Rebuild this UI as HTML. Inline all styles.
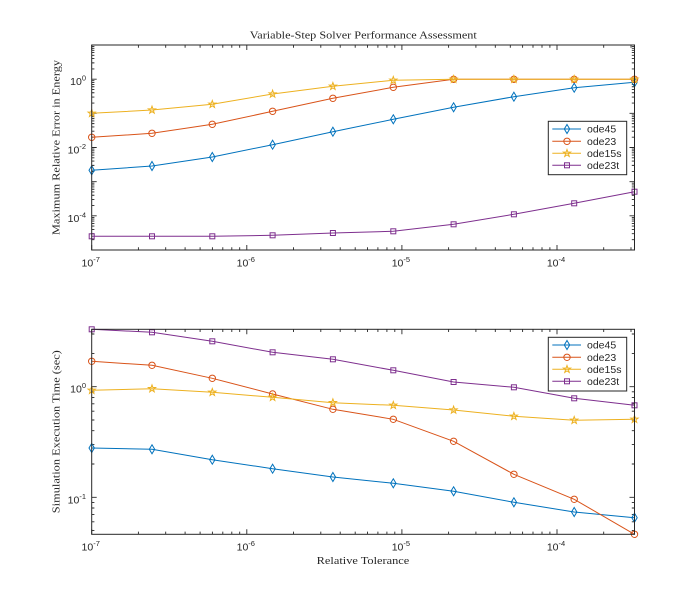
<!DOCTYPE html>
<html><head><meta charset="utf-8"><style>
html,body{margin:0;padding:0;background:#fff;}
svg{display:block;}
.tl{font-family:"Liberation Sans",sans-serif;font-size:10.5px;fill:#262626;}
.sl{font-family:"Liberation Serif",serif;font-size:11px;fill:#262626;}
</style></head><body>
<svg width="700" height="600" viewBox="0 0 700 600" xmlns="http://www.w3.org/2000/svg">
<defs>
<path id="dia" d="M0 -4.5L2.7 0L0 4.5L-2.7 0Z"/>
<ellipse id="cir" cx="0" cy="0" rx="3.2" ry="3.2"/>
<path id="sta" d="M0 -3.8L0.9 -1.23L3.6 -1.18L1.45 0.47L2.23 3.08L0 1.52L-2.23 3.08L-1.45 0.47L-3.6 -1.18L-0.9 -1.23Z"/>
<rect id="sq" x="-2.5" y="-2.5" width="5" height="5"/>
<path id="xt" d="M91.7 0v-5M246.8 0v-5M401.9 0v-5M557 0v-5M138.4 0v-2.7M165.7 0v-2.7M185.1 0v-2.7M200.1 0v-2.7M212.4 0v-2.7M222.8 0v-2.7M231.8 0v-2.7M239.7 0v-2.7M293.5 0v-2.7M320.8 0v-2.7M340.2 0v-2.7M355.2 0v-2.7M367.5 0v-2.7M377.9 0v-2.7M386.9 0v-2.7M394.8 0v-2.7M448.6 0v-2.7M475.9 0v-2.7M495.3 0v-2.7M510.3 0v-2.7M522.6 0v-2.7M533 0v-2.7M542 0v-2.7M549.9 0v-2.7M603.7 0v-2.7M631 0v-2.7"/>
<path id="yt1" d="M0 45h5M0 79.17h5M0 113.33h5M0 147.5h5M0 181.67h5M0 215.83h5M0 250h5M0 239.7h2.7M0 233.7h2.7M0 229.4h2.7M0 226.1h2.7M0 223.4h2.7M0 221.1h2.7M0 219.1h2.7M0 217.4h2.7M0 205.55h2.7M0 199.53h2.7M0 195.26h2.7M0 191.95h2.7M0 189.24h2.7M0 186.96h2.7M0 184.97h2.7M0 183.22h2.7M0 171.39h2.7M0 165.37h2.7M0 161.1h2.7M0 157.79h2.7M0 155.08h2.7M0 152.8h2.7M0 150.81h2.7M0 149.06h2.7M0 137.22h2.7M0 131.2h2.7M0 126.93h2.7M0 123.62h2.7M0 120.91h2.7M0 118.63h2.7M0 116.64h2.7M0 114.89h2.7M0 103.05h2.7M0 97.03h2.7M0 92.76h2.7M0 89.45h2.7M0 86.74h2.7M0 84.46h2.7M0 82.47h2.7M0 80.72h2.7M0 68.89h2.7M0 62.87h2.7M0 58.6h2.7M0 55.29h2.7M0 52.58h2.7M0 50.3h2.7M0 48.31h2.7M0 46.56h2.7"/>
<path id="yt2" d="M0 386.7h5M0 497.3h5M0 353.4h2.7M0 334h2.7M0 391.8h2.7M0 397.4h2.7M0 403.8h2.7M0 411.2h2.7M0 420h2.7M0 430.7h2.7M0 444.6h2.7M0 464h2.7M0 502.4h2.7M0 508h2.7M0 514.4h2.7M0 521.8h2.7M0 530.6h2.7"/>
</defs>

<!-- ===== TOP AXES ===== -->
<rect x="91.7" y="45" width="542.8" height="205" fill="#fff"/>
<g fill="none" stroke="#262626" stroke-width="0.9">
<use href="#xt" transform="translate(0,250)"/>
<use href="#xt" transform="translate(0,45) scale(1,-1)"/>
<use href="#yt1" transform="translate(91.7,0)"/>
<use href="#yt1" transform="translate(634.5,0) scale(-1,1)"/>
</g>

<g fill="none" stroke-width="1">
<g stroke="#0072BD">
<polyline points="91.7,170.3 152,166 212.3,157 272.6,144.7 332.9,131.7 393.3,119.3 453.6,107.3 513.9,96.7 574.2,87.7 634.5,82.3"/>
<use href="#dia" x="91.7" y="170.3"/><use href="#dia" x="152" y="166"/><use href="#dia" x="212.3" y="157"/><use href="#dia" x="272.6" y="144.7"/><use href="#dia" x="332.9" y="131.7"/><use href="#dia" x="393.3" y="119.3"/><use href="#dia" x="453.6" y="107.3"/><use href="#dia" x="513.9" y="96.7"/><use href="#dia" x="574.2" y="87.7"/><use href="#dia" x="634.5" y="82.3"/>
</g>
<g stroke="#D95319">
<polyline points="91.7,137.3 152,133.3 212.3,124.3 272.6,111.3 332.9,98.3 393.3,87.3 453.6,79.3 513.9,79.3 574.2,79.3 634.5,79.3"/>
<use href="#cir" x="91.7" y="137.3"/><use href="#cir" x="152" y="133.3"/><use href="#cir" x="212.3" y="124.3"/><use href="#cir" x="272.6" y="111.3"/><use href="#cir" x="332.9" y="98.3"/><use href="#cir" x="393.3" y="87.3"/><use href="#cir" x="453.6" y="79.3"/><use href="#cir" x="513.9" y="79.3"/><use href="#cir" x="574.2" y="79.3"/><use href="#cir" x="634.5" y="79.3"/>
</g>
<g stroke="#EDB120">
<polyline points="91.7,113.3 152,110 212.3,104.3 272.6,94 332.9,86.3 393.3,80.3 453.6,79.3 513.9,79.3 574.2,79.3 634.5,79.3"/>
<use href="#sta" x="91.7" y="113.3"/><use href="#sta" x="152" y="110"/><use href="#sta" x="212.3" y="104.3"/><use href="#sta" x="272.6" y="94"/><use href="#sta" x="332.9" y="86.3"/><use href="#sta" x="393.3" y="80.3"/><use href="#sta" x="453.6" y="79.3"/><use href="#sta" x="513.9" y="79.3"/><use href="#sta" x="574.2" y="79.3"/><use href="#sta" x="634.5" y="79.3"/>
</g>
<g stroke="#7E2F8E">
<polyline points="91.7,236.3 152,236.3 212.3,236.3 272.6,235.3 332.9,233 393.3,231.3 453.6,224.3 513.9,214.3 574.2,203.3 634.5,191.7"/>
<use href="#sq" x="91.7" y="236.3"/><use href="#sq" x="152" y="236.3"/><use href="#sq" x="212.3" y="236.3"/><use href="#sq" x="272.6" y="235.3"/><use href="#sq" x="332.9" y="233"/><use href="#sq" x="393.3" y="231.3"/><use href="#sq" x="453.6" y="224.3"/><use href="#sq" x="513.9" y="214.3"/><use href="#sq" x="574.2" y="203.3"/><use href="#sq" x="634.5" y="191.7"/>
</g>
</g>

<rect x="91.7" y="45" width="542.8" height="205" fill="none" stroke="#262626" stroke-width="1"/>

<!-- top legend -->
<rect x="548.3" y="121.3" width="78.4" height="53.4" fill="#fff" stroke="#262626" stroke-width="1"/>
<g fill="none" stroke-width="1">
<g stroke="#0072BD"><line x1="552.3" y1="129" x2="581" y2="129"/><use href="#dia" x="567" y="129"/></g>
<g stroke="#D95319"><line x1="552.3" y1="141.3" x2="581" y2="141.3"/><use href="#cir" x="567" y="141.3"/></g>
<g stroke="#EDB120"><line x1="552.3" y1="153.3" x2="581" y2="153.3"/><use href="#sta" x="567" y="153.3"/></g>
<g stroke="#7E2F8E"><line x1="552.3" y1="165.3" x2="581" y2="165.3"/><use href="#sq" x="567" y="165.3"/></g>
</g>
<text class="tl" x="587" y="132.7">ode45</text>
<text class="tl" x="587" y="145">ode23</text>
<text class="tl" x="587" y="157">ode15s</text>
<text class="tl" x="587" y="169">ode23t</text>

<!-- top tick labels -->
<text class="tl" x="90.7" y="266.7" text-anchor="middle">10<tspan dy="-4.5" font-size="7.5">-7</tspan></text>
<text class="tl" x="245.8" y="266.7" text-anchor="middle">10<tspan dy="-4.5" font-size="7.5">-6</tspan></text>
<text class="tl" x="400.9" y="266.7" text-anchor="middle">10<tspan dy="-4.5" font-size="7.5">-5</tspan></text>
<text class="tl" x="556" y="266.7" text-anchor="middle">10<tspan dy="-4.5" font-size="7.5">-4</tspan></text>
<text class="tl" x="86" y="85.2" text-anchor="end">10<tspan dy="-4.5" font-size="7.5">0</tspan></text>
<text class="tl" x="86" y="153.5" text-anchor="end">10<tspan dy="-4.5" font-size="7.5">-2</tspan></text>
<text class="tl" x="86" y="221.8" text-anchor="end">10<tspan dy="-4.5" font-size="7.5">-4</tspan></text>

<text class="sl" x="363.3" y="38.5" text-anchor="middle" textLength="227" lengthAdjust="spacingAndGlyphs">Variable-Step Solver Performance Assessment</text>
<text class="sl" transform="translate(59.5,147.5) rotate(-90)" x="0" y="0" text-anchor="middle" textLength="175" lengthAdjust="spacingAndGlyphs">Maximum Relative Error in Energy</text>

<!-- ===== BOTTOM AXES ===== -->
<g fill="none" stroke="#262626" stroke-width="0.9">
<use href="#xt" transform="translate(0,534.3)"/>
<use href="#xt" transform="translate(0,329.3) scale(1,-1)"/>
<use href="#yt2" transform="translate(91.7,0)"/>
<use href="#yt2" transform="translate(634.5,0) scale(-1,1)"/>
</g>

<g fill="none" stroke-width="1">
<g stroke="#0072BD">
<polyline points="91.7,448 152,449.3 212.3,459.7 272.6,468.7 332.9,477 393.3,483.3 453.6,491.3 513.9,502.3 574.2,512 634.5,517.7"/>
<use href="#dia" x="91.7" y="448"/><use href="#dia" x="152" y="449.3"/><use href="#dia" x="212.3" y="459.7"/><use href="#dia" x="272.6" y="468.7"/><use href="#dia" x="332.9" y="477"/><use href="#dia" x="393.3" y="483.3"/><use href="#dia" x="453.6" y="491.3"/><use href="#dia" x="513.9" y="502.3"/><use href="#dia" x="574.2" y="512"/><use href="#dia" x="634.5" y="517.7"/>
</g>
<g stroke="#D95319">
<polyline points="91.7,361.3 152,365.3 212.3,378.3 272.6,394 332.9,409.3 393.3,419.3 453.6,441.3 513.9,474.3 574.2,499.3 634.5,534.3"/>
<use href="#cir" x="91.7" y="361.3"/><use href="#cir" x="152" y="365.3"/><use href="#cir" x="212.3" y="378.3"/><use href="#cir" x="272.6" y="394"/><use href="#cir" x="332.9" y="409.3"/><use href="#cir" x="393.3" y="419.3"/><use href="#cir" x="453.6" y="441.3"/><use href="#cir" x="513.9" y="474.3"/><use href="#cir" x="574.2" y="499.3"/><use href="#cir" x="634.5" y="534.3"/>
</g>
<g stroke="#EDB120">
<polyline points="91.7,390.3 152,388.7 212.3,392.3 272.6,397.3 332.9,402.7 393.3,405.3 453.6,410 513.9,416.3 574.2,420.3 634.5,419.3"/>
<use href="#sta" x="91.7" y="390.3"/><use href="#sta" x="152" y="388.7"/><use href="#sta" x="212.3" y="392.3"/><use href="#sta" x="272.6" y="397.3"/><use href="#sta" x="332.9" y="402.7"/><use href="#sta" x="393.3" y="405.3"/><use href="#sta" x="453.6" y="410"/><use href="#sta" x="513.9" y="416.3"/><use href="#sta" x="574.2" y="420.3"/><use href="#sta" x="634.5" y="419.3"/>
</g>
<g stroke="#7E2F8E">
<polyline points="91.7,329.3 152,332.3 212.3,341.3 272.6,352.3 332.9,359.3 393.3,370.3 453.6,382 513.9,387.3 574.2,398.3 634.5,405.3"/>
<use href="#sq" x="91.7" y="329.3"/><use href="#sq" x="152" y="332.3"/><use href="#sq" x="212.3" y="341.3"/><use href="#sq" x="272.6" y="352.3"/><use href="#sq" x="332.9" y="359.3"/><use href="#sq" x="393.3" y="370.3"/><use href="#sq" x="453.6" y="382"/><use href="#sq" x="513.9" y="387.3"/><use href="#sq" x="574.2" y="398.3"/><use href="#sq" x="634.5" y="405.3"/>
</g>
</g>

<rect x="91.7" y="329.3" width="542.8" height="205" fill="none" stroke="#262626" stroke-width="1"/>

<!-- bottom legend -->
<rect x="548.3" y="337.3" width="78.4" height="53.7" fill="#fff" stroke="#262626" stroke-width="1"/>
<g fill="none" stroke-width="1">
<g stroke="#0072BD"><line x1="552.3" y1="345" x2="581" y2="345"/><use href="#dia" x="567" y="345"/></g>
<g stroke="#D95319"><line x1="552.3" y1="357.3" x2="581" y2="357.3"/><use href="#cir" x="567" y="357.3"/></g>
<g stroke="#EDB120"><line x1="552.3" y1="369.3" x2="581" y2="369.3"/><use href="#sta" x="567" y="369.3"/></g>
<g stroke="#7E2F8E"><line x1="552.3" y1="381.3" x2="581" y2="381.3"/><use href="#sq" x="567" y="381.3"/></g>
</g>
<text class="tl" x="587" y="348.7">ode45</text>
<text class="tl" x="587" y="361">ode23</text>
<text class="tl" x="587" y="373">ode15s</text>
<text class="tl" x="587" y="385">ode23t</text>

<!-- bottom tick labels -->
<text class="tl" x="90.7" y="550.7" text-anchor="middle">10<tspan dy="-4.5" font-size="7.5">-7</tspan></text>
<text class="tl" x="245.8" y="550.7" text-anchor="middle">10<tspan dy="-4.5" font-size="7.5">-6</tspan></text>
<text class="tl" x="400.9" y="550.7" text-anchor="middle">10<tspan dy="-4.5" font-size="7.5">-5</tspan></text>
<text class="tl" x="556" y="550.7" text-anchor="middle">10<tspan dy="-4.5" font-size="7.5">-4</tspan></text>
<text class="tl" x="86" y="392.7" text-anchor="end">10<tspan dy="-4.5" font-size="7.5">0</tspan></text>
<text class="tl" x="86" y="503.3" text-anchor="end">10<tspan dy="-4.5" font-size="7.5">-1</tspan></text>

<text class="sl" x="363" y="564" text-anchor="middle" textLength="92.6" lengthAdjust="spacingAndGlyphs">Relative Tolerance</text>
<text class="sl" transform="translate(59.5,431.7) rotate(-90)" x="0" y="0" text-anchor="middle" textLength="163" lengthAdjust="spacingAndGlyphs">Simulation Execution Time (sec)</text>
</svg>
</body></html>
